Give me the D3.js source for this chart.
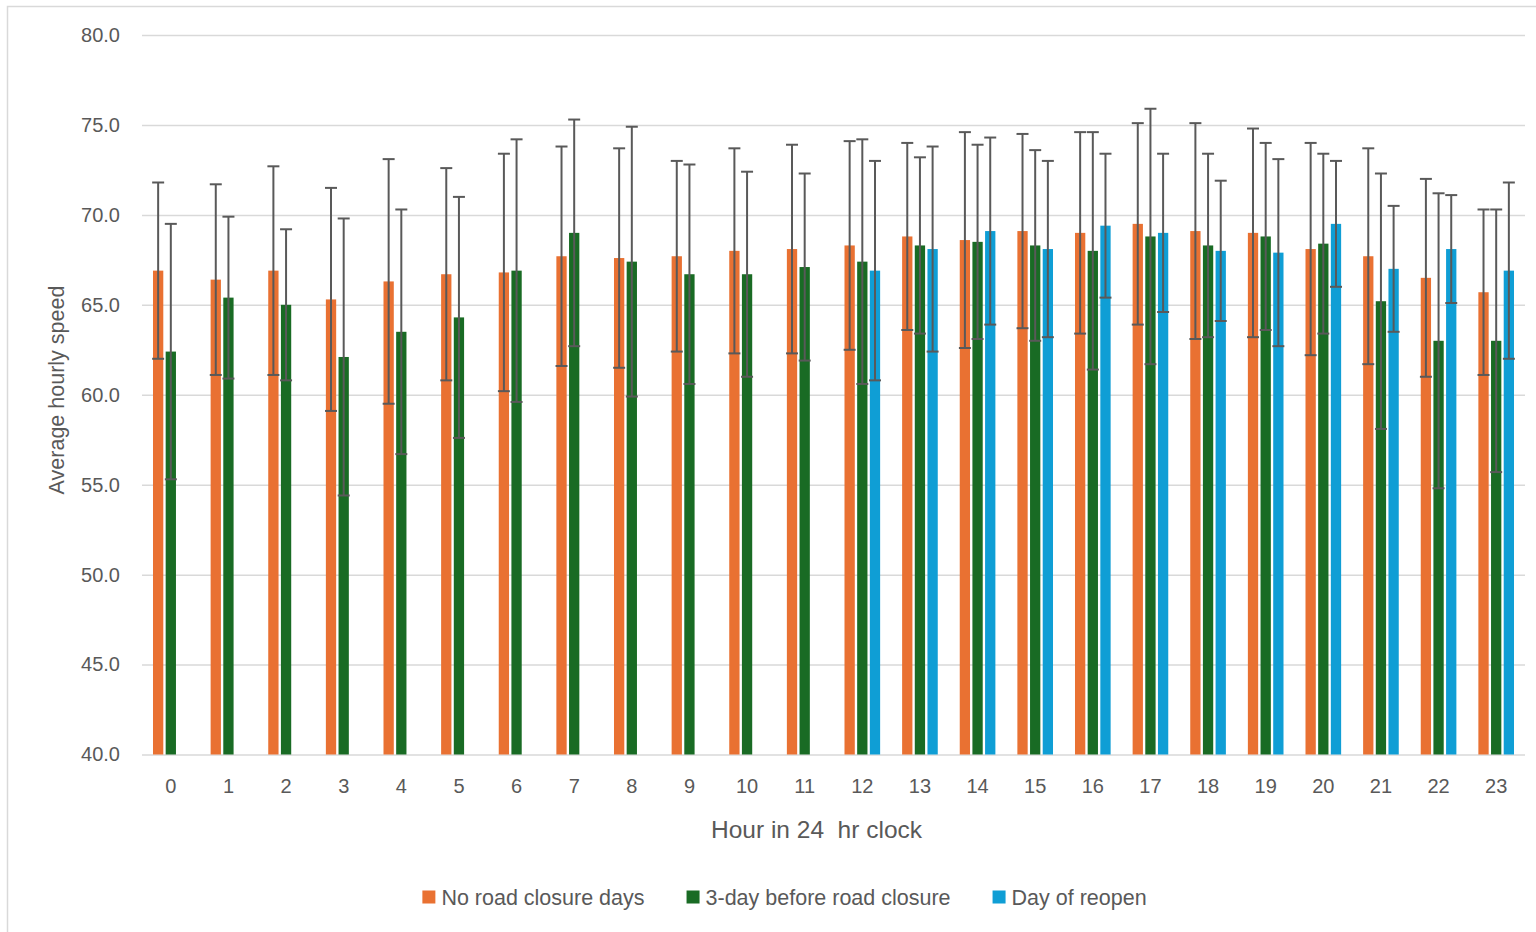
<!DOCTYPE html>
<html lang="en">
<head>
<meta charset="UTF-8">
<title>Average hourly speed</title>
<script src="https://d3js.org/d3.v7.min.js"></script>
<style>
  body { margin: 0; background: #ffffff; }
  svg { display: block; font-family: "Liberation Sans", Arial, sans-serif; }
  text { fill: #595959; }
</style>
</head>
<body>
<script>
  // hours on the x axis
  const hours = ["0", "1", "2", "3", "4", "5", "6", "7", "8", "9", "10", "11",
                 "12", "13", "14", "15", "16", "17", "18", "19", "20", "21", "22", "23"];
  const seriesNames = ["No road closure days", "3-day before road closure", "Day of reopen"];
  const seriesColors = ["#E97132", "#196B24", "#0F9ED5"];

  const noClosure = [66.9, 66.4, 66.9, 65.3, 66.3, 66.7, 66.8, 67.7, 67.6, 67.7, 68.0, 68.1,
                     68.3, 68.8, 68.6, 69.1, 69.0, 69.5, 69.1, 69.0, 68.1, 67.7, 66.5, 65.7];
  const noClosureErr = [4.9, 5.3, 5.8, 6.2, 6.8, 5.9, 6.6, 6.1, 6.1, 5.3, 5.7, 5.8,
                        5.8, 5.2, 6.0, 5.4, 5.6, 5.6, 6.0, 5.8, 5.9, 6.0, 5.5, 4.6];
  const beforeClosure = [62.4, 65.4, 65.0, 62.1, 63.5, 64.3, 66.9, 69.0, 67.4, 66.7, 66.7, 67.1,
                         67.4, 68.3, 68.5, 68.3, 68.0, 68.8, 68.3, 68.8, 68.4, 65.2, 63.0, 63.0];
  const beforeClosureErr = [7.1, 4.5, 4.2, 7.7, 6.8, 6.7, 7.3, 6.3, 7.5, 6.1, 5.7, 5.2,
                            6.8, 4.9, 5.4, 5.3, 6.6, 7.1, 5.1, 5.2, 5.0, 7.1, 8.2, 7.3];
  const reopen = [null, null, null, null, null, null, null, null, null, null, null, null,
                  66.9, 68.1, 69.1, 68.1, 69.4, 69.0, 68.0, 67.9, 69.5, 67.0, 68.1, 66.9];
  const reopenErr = [null, null, null, null, null, null, null, null, null, null, null, null,
                     6.1, 5.7, 5.2, 4.9, 4.0, 4.4, 3.9, 5.2, 3.5, 3.5, 3.0, 4.9];

  const yTicks = [40, 45, 50, 55, 60, 65, 70, 75, 80];

  const width = 1536, height = 932;
  const plotLeft = 142, plotRight = 1525, plotTop = 35, plotBottom = 754.5;

  const seriesValues = [noClosure, beforeClosure, reopen];
  const seriesErrors = [noClosureErr, beforeClosureErr, reopenErr];

  const svg = d3.select("body").append("svg")
      .attr("width", width)
      .attr("height", height);

  // chart border
  svg.append("rect")
      .attr("x", 7.5).attr("y", 6.5)
      .attr("width", 1560).attr("height", 950)
      .attr("fill", "none")
      .attr("stroke", "#d9d9d9")
      .attr("stroke-width", 1.5);

  const x0 = d3.scaleBand()
      .domain(hours)
      .range([plotLeft, plotRight])
      .padding(0);

  const x1 = d3.scaleBand()
      .domain(d3.range(seriesNames.length))
      .range([0, x0.bandwidth()])
      .paddingInner(0.187)
      .paddingOuter(0.868);

  const y = d3.scaleLinear()
      .domain([40, 80])
      .range([plotBottom, plotTop]);

  // gridlines
  const grid = svg.append("g")
      .attr("transform", `translate(${plotLeft},0)`)
      .call(d3.axisLeft(y).tickValues(yTicks).tickSize(-(plotRight - plotLeft)).tickFormat(""));
  grid.select(".domain").remove();
  grid.selectAll("line").attr("stroke", "#d9d9d9").attr("stroke-width", 1.5);

  // y labels
  const yAxis = svg.append("g")
      .attr("transform", `translate(${plotLeft},0)`)
      .call(d3.axisLeft(y).tickValues(yTicks).tickSize(0).tickPadding(22).tickFormat(d3.format(".1f")));
  yAxis.select(".domain").remove();
  yAxis.selectAll("text")
      .attr("fill", "#595959")
      .style("font-size", "20px")
      .style("font-family", "'Liberation Sans', Arial, sans-serif");

  // x labels
  const xAxis = svg.append("g")
      .attr("transform", `translate(0,${plotBottom})`)
      .call(d3.axisBottom(x0).tickSize(0).tickPadding(24));
  xAxis.select(".domain").remove();
  xAxis.selectAll("text")
      .attr("fill", "#595959")
      .style("font-size", "20px")
      .style("font-family", "'Liberation Sans', Arial, sans-serif");

  // bars
  const rows = hours.map((h, i) => ({
    hour: h,
    items: seriesValues.map((vals, s) => ({ s, v: vals[i], e: seriesErrors[s][i] }))
                       .filter(d => d.v != null)
  }));

  const groups = svg.append("g")
    .selectAll("g")
    .data(rows)
    .join("g")
      .attr("transform", d => `translate(${x0(d.hour)},0)`);

  groups.selectAll("rect")
    .data(d => d.items)
    .join("rect")
      .attr("x", d => x1(d.s))
      .attr("y", d => y(d.v))
      .attr("width", x1.bandwidth())
      .attr("height", d => y(40) - y(d.v))
      .attr("fill", d => seriesColors[d.s]);

  // error bars
  const capW = 12;
  const errs = svg.append("g")
    .selectAll("g")
    .data(rows)
    .join("g")
      .attr("transform", d => `translate(${x0(d.hour)},0)`)
    .selectAll("g")
    .data(d => d.items)
    .join("g")
      .attr("stroke", "#595959")
      .attr("stroke-width", 2);

  errs.append("line")
      .attr("x1", d => x1(d.s) + x1.bandwidth() / 2)
      .attr("x2", d => x1(d.s) + x1.bandwidth() / 2)
      .attr("y1", d => y(d.v - d.e))
      .attr("y2", d => y(d.v + d.e));
  errs.append("line")
      .attr("x1", d => x1(d.s) + x1.bandwidth() / 2 - capW / 2)
      .attr("x2", d => x1(d.s) + x1.bandwidth() / 2 + capW / 2)
      .attr("y1", d => y(d.v + d.e))
      .attr("y2", d => y(d.v + d.e));
  errs.append("line")
      .attr("x1", d => x1(d.s) + x1.bandwidth() / 2 - capW / 2)
      .attr("x2", d => x1(d.s) + x1.bandwidth() / 2 + capW / 2)
      .attr("y1", d => y(d.v - d.e))
      .attr("y2", d => y(d.v - d.e));

  // axis titles
  svg.append("text")
      .attr("x", 816.5)
      .attr("y", 838)
      .attr("text-anchor", "middle")
      .style("font-size", "24.5px")
      .style("white-space", "pre")
      .text("Hour in 24  hr clock");

  svg.append("text")
      .attr("transform", "translate(64,390) rotate(-90)")
      .attr("text-anchor", "middle")
      .style("font-size", "21.5px")
      .text("Average hourly speed");

  // legend
  const legend = svg.append("g");
  const sq = 13, sqGap = 6, itemGap = 42;
  const items = legend.selectAll("g")
    .data(seriesNames)
    .join("g");
  items.append("rect")
      .attr("width", sq).attr("height", sq)
      .attr("y", -sq / 2)
      .attr("fill", (d, i) => seriesColors[i]);
  items.append("text")
      .attr("x", sq + sqGap)
      .attr("dy", "0.35em")
      .style("font-size", "21.5px")
      .text(d => d);

  let cx = 0;
  items.each(function() {
    const w = this.getBBox().width;
    d3.select(this).attr("transform", `translate(${cx},0)`);
    cx += w + itemGap;
  });
  const totalW = cx - itemGap;
  legend.attr("transform", `translate(${784.5 - totalW / 2},897)`);
</script>
</body>
</html>
